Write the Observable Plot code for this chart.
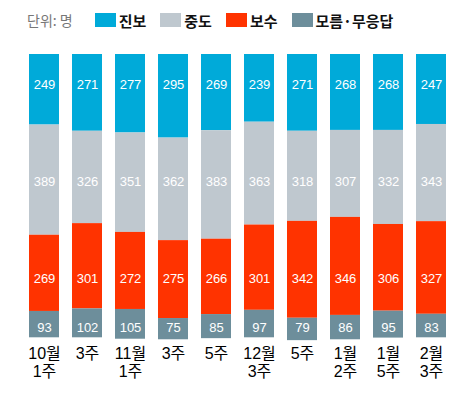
<!DOCTYPE html>
<html>
<head>
<meta charset="utf-8">
<script src="https://cdn.jsdelivr.net/npm/d3@7"></script>
<script src="https://cdn.jsdelivr.net/npm/@observablehq/plot@0.6"></script>
<style>
  html, body { margin: 0; padding: 0; background: #fff; }
  body { width: 476px; height: 394px; overflow: hidden; font-family: 'Liberation Sans', 'Noto Sans CJK KR', sans-serif; }
  .legend { height: 40px; display: flex; align-items: center; padding-left: 27px; box-sizing: border-box; }
  .unit { font-size: 14px; color: #777; margin-right: 22px; font-family: 'Noto Sans CJK KR', sans-serif; }
  .item { display: flex; align-items: center; margin-right: 14px; font-size: 15px; font-weight: 700; color: #111; font-family: 'Noto Sans CJK KR', sans-serif; }
  .sw { width: 21px; height: 14px; margin-right: 3px; }
  #chart svg { display: block; }
</style>
</head>
<body>
<div class="legend" id="legend"></div>
<div id="chart"></div>
<script>
const periods = ["10월\n1주", "3주", "11월\n1주", "3주", "5주", "12월\n3주", "5주", "1월\n2주", "1월\n5주", "2월\n3주"];
const series = ["진보", "중도", "보수", "모름·무응답"];
const progressive  = [249, 271, 277, 295, 269, 239, 271, 268, 268, 247];
const moderate     = [389, 326, 351, 362, 383, 363, 318, 307, 332, 343];
const conservative = [269, 301, 272, 275, 266, 301, 342, 346, 306, 327];
const noAnswer     = [93, 102, 105, 75, 85, 97, 79, 86, 95, 83];
const unitLabel = "단위: 명";

// styles
const colors = ["#00aad9", "#bfc8cf", "#ff3300", "#6d8e9b"];
const labelRow = {"진보": 107, "중도": 451, "보수": 792, "모름·무응답": 964};

const valuesBySeries = [progressive, moderate, conservative, noAnswer];
const rows = [];
series.forEach((s, k) => {
  valuesBySeries[k].forEach((v, i) => rows.push({i, series: s, value: v}));
});

// legend
const legend = document.getElementById("legend");
const u = document.createElement("span");
u.className = "unit"; u.textContent = unitLabel;
legend.appendChild(u);
series.forEach((s, k) => {
  const it = document.createElement("span");
  it.className = "item";
  const sw = document.createElement("span");
  sw.className = "sw"; sw.style.background = colors[k];
  it.appendChild(sw);
  it.appendChild(document.createTextNode(s));
  legend.appendChild(it);
});

const chart = Plot.plot({
  width: 476,
  height: 354,
  marginTop: 14,
  marginBottom: 56.7,
  marginLeft: 14.7,
  marginRight: 15.2,
  style: {fontFamily: "'Liberation Sans', 'Noto Sans CJK KR', sans-serif", background: "#fff"},
  x: {type: "band", domain: d3.range(periods.length), padding: 0.307, axis: null},
  y: {domain: [0, 1000], range: [14, 297.3], axis: null},
  color: {domain: series, range: colors},
  marks: [
    Plot.barY(rows, Plot.stackY({x: "i", y: "value", fill: "series", order: series})),
    Plot.text(rows, {x: "i", y: d => labelRow[d.series], text: d => String(d.value), fill: "white", fontSize: 13}),
    Plot.text(periods, {x: (d, i) => i, text: d => d, frameAnchor: "bottom", lineAnchor: "top", dy: 8, fontSize: 16, lineHeight: 1.13, fill: "#000"})
  ]
});
document.getElementById("chart").appendChild(chart);
</script>
</body>
</html>
